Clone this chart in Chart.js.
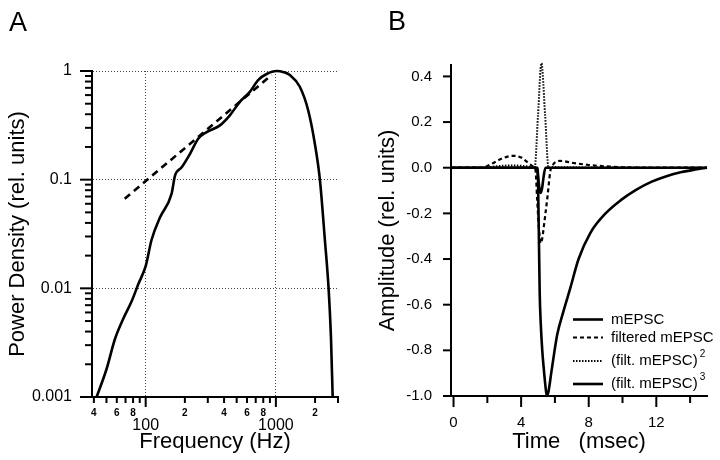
<!DOCTYPE html>
<html>
<head>
<meta charset="utf-8">
<script src="https://cdn.jsdelivr.net/npm/chart.js@4.4.1/dist/chart.umd.min.js"></script>
<style>
  body { margin: 0; background: #fff; }
  #wrap { position: relative; width: 720px; height: 460px; overflow: hidden; }
  #wrap canvas { position: absolute; top: 0; }
  .panel { position: absolute; font-family: 'Liberation Sans', Arial, sans-serif; font-size: 27px; line-height: 27px; color: #000; }
</style>
</head>
<body>
<div id="wrap">
  <canvas id="chartA" width="360" height="460" style="left:0"></canvas>
  <canvas id="chartB" width="360" height="460" style="left:360px"></canvas>
  <div class="panel" style="left:9px;top:9px">A</div>
  <div class="panel" style="left:388px;top:8px">B</div>
</div>
<script>
// Panel A - power spectrum of the mEPSC (log-log)
const FREQ_HZ = [42, 50, 58, 67, 78, 88, 100, 111, 129, 158, 168, 189, 219, 253, 294, 372, 443, 529, 631, 731, 849, 1012, 1150, 1279, 1527, 1770, 1992, 2178, 2378, 2540, 2650, 2730];
const POWER = [0.001, 0.0018, 0.0034, 0.0052, 0.0076, 0.011, 0.016, 0.028, 0.045, 0.074, 0.109, 0.13, 0.173, 0.238, 0.274, 0.316, 0.391, 0.52, 0.643, 0.826, 0.938, 1.0, 0.975, 0.918, 0.716, 0.435, 0.214, 0.1, 0.028, 0.01, 0.0035, 0.001];
// dashed power-law fit
const FIT_HZ = [69, 930];
const FIT_POWER = [0.0667, 0.92];

const X_TICKS_A = [40, 50, 60, 70, 80, 90, 100, 200, 300, 400, 500, 600, 700, 800, 900, 1000, 2000, 3000];
const X_LABELS_A = ['4', '', '6', '', '8', '', '100', '2', '', '4', '', '6', '', '8', '', '1000', '2', ''];
const Y_DECADES_A = [0.001, 0.01, 0.1, 1];
const Y_LABELS_A = ['0.001', '0.01', '0.1', '1'];

// Panel B - time course (msec)
const TIME_M = [-0.15, 4.98, 5.02, 5.06, 5.1, 5.16, 5.25, 5.34, 5.43, 5.52, 5.62, 5.8, 6.14, 6.5, 6.9, 7.4, 8.1, 9.0, 9.9, 10.8, 11.7, 12.6, 13.5, 14.3, 15];
const AMP_M = [0, 0, -0.15, -0.35, -0.55, -0.68, -0.8, -0.88, -0.95, -1.0, -0.98, -0.89, -0.73, -0.63, -0.53, -0.4, -0.285, -0.2, -0.142, -0.097, -0.062, -0.037, -0.019, -0.008, 0];

const TIME_F = [-0.15, 1.7, 2.2, 2.8, 3.5, 4.0, 4.4, 4.75, 4.85, 4.95, 5.05, 5.15, 5.25, 5.34, 5.44, 5.54, 5.74, 5.9, 6.3, 7.0, 8.0, 9.0, 10.0, 11.0, 15];
const AMP_F = [0, 0, 0.015, 0.038, 0.052, 0.045, 0.022, 0.003, -0.01, -0.14, -0.26, -0.33, -0.31, -0.26, -0.2, -0.14, -0.01, 0.015, 0.03, 0.022, 0.012, 0.006, 0.002, 0, 0];

const TIME_SQ = [-0.15, 1.8, 2.5, 3.5, 4.3, 4.8, 5.0, 5.2, 5.42, 5.62, 5.8, 6.5, 15];
const AMP_SQ = [0, 0, 0.006, 0.01, 0.006, 0, 0.23, 0.458, 0.23, 0, 0.003, 0.002, 0];

const TIME_CU = [-0.15, 4.85, 4.95, 5.02, 5.1, 5.16, 5.24, 5.33, 5.44, 15];
const AMP_CU = [0, 0, -0.01, -0.05, -0.1, -0.11, -0.09, -0.04, 0, 0];

const SERIES_NAMES = ['mEPSC', 'filtered mEPSC', '(filt. mEPSC)', '(filt. mEPSC)'];
const SERIES_POWERS = ['', '', '2', '3'];

const X_TICKS_B = [0, 2, 4, 6, 8, 10, 12, 14];
const X_LABELS_B = ['0', '', '4', '', '8', '', '12', ''];
const Y_TICKS_B = [-1, -0.8, -0.6, -0.4, -0.2, 0, 0.2, 0.4];
const Y_LABELS_B = ['-1.0', '-0.8', '-0.6', '-0.4', '-0.2', '0.0', '0.2', '0.4'];

Chart.defaults.font.family = "'Liberation Sans', Arial, sans-serif";
Chart.defaults.color = '#000';

const pts = (xs, ys) => xs.map((x, i) => ({ x: x, y: ys[i] }));

// draws the tick marks so labelled ticks can be longer than the others
const tickMarks = {
  id: 'tickMarks',
  afterDraw(chart, args, opts) {
    const ctx = chart.ctx;
    ctx.save();
    ctx.strokeStyle = '#000';
    ctx.lineWidth = 2;
    Object.values(chart.scales).forEach(scale => {
      const len = opts[scale.id];
      if (!len) return;
      scale.ticks.forEach(t => {
        const p = scale.getPixelForValue(t.value);
        const l = t.major ? len[1] : len[0];
        ctx.beginPath();
        if (scale.isHorizontal()) {
          ctx.moveTo(p, scale.top);
          ctx.lineTo(p, scale.top + l);
        } else {
          ctx.moveTo(scale.right, p);
          ctx.lineTo(scale.right - l, p);
        }
        ctx.stroke();
      });
    });
    ctx.restore();
  }
};

// legend in the lower right of panel B, with superscripts
const legendB = {
  id: 'legendB',
  afterDraw(chart) {
    const ctx = chart.ctx;
    const rows = [319.5, 337.5, 361, 384];
    ctx.save();
    chart.data.datasets.forEach((ds, i) => {
      const y = rows[i];
      ctx.strokeStyle = '#000';
      ctx.lineWidth = ds.borderWidth;
      ctx.setLineDash(ds.borderDash || []);
      ctx.beginPath();
      ctx.moveTo(213, y);
      ctx.lineTo(243, y);
      ctx.stroke();
      ctx.setLineDash([]);
      ctx.fillStyle = '#000';
      ctx.textBaseline = 'middle';
      ctx.font = "15px 'Liberation Sans', Arial, sans-serif";
      ctx.fillText(SERIES_NAMES[i], 251, y);
      if (SERIES_POWERS[i]) {
        const w = ctx.measureText(SERIES_NAMES[i]).width;
        ctx.font = "10px 'Liberation Sans', Arial, sans-serif";
        ctx.fillText(SERIES_POWERS[i], 251 + w + 2, y - 7);
      }
    });
    ctx.restore();
  }
};

const GRID = '#444';

new Chart(document.getElementById('chartA'), {
  type: 'line',
  data: {
    datasets: [
      { data: pts(FREQ_HZ, POWER), borderColor: '#000', borderWidth: 2.6, pointRadius: 0, cubicInterpolationMode: 'monotone', clip: false },
      { data: pts(FIT_HZ, FIT_POWER), borderColor: '#000', borderWidth: 2.6, borderDash: [7, 5], pointRadius: 0, clip: false }
    ]
  },
  options: {
    responsive: false,
    devicePixelRatio: 1,
    animation: false,
    events: [],
    layout: { padding: { top: 71, right: 22, left: 0, bottom: 0 } },
    plugins: {
      legend: { display: false },
      tooltip: { enabled: false },
      tickMarks: { x: [6, 10], y: [7, 12] }
    },
    scales: {
      x: {
        type: 'logarithmic',
        min: 38.7,
        max: 3000,
        afterFit: s => { s.height = 63; },
        afterBuildTicks: s => { s.ticks = X_TICKS_A.map((v, i) => ({ value: v, major: X_LABELS_A[i].length > 2 })); },
        grid: {
          color: c => (c.tick && (c.tick.value === 100 || c.tick.value === 1000) ? GRID : 'rgba(0,0,0,0)'),
          lineWidth: 1,
          drawTicks: true,
          tickLength: 6,
          tickColor: 'rgba(0,0,0,0)'
        },
        border: { color: '#000', width: 2, dash: c => (c.tick ? [1, 2] : []) },
        ticks: {
          autoSkip: false,
          maxRotation: 0,
          padding: 1,
          font: c => (c.tick && c.tick.major ? { size: 16, lineHeight: 0.917 } : { size: 10, weight: 'bold', lineHeight: 1.8 }),
          callback: v => {
            const lab = X_LABELS_A[X_TICKS_A.indexOf(v)];
            return lab.length > 2 ? ['', lab] : lab;
          }
        },
        title: { display: true, text: 'Frequency (Hz)', font: { size: 22 }, padding: { top: 0, bottom: 5 } }
      },
      y: {
        type: 'logarithmic',
        min: 0.001,
        max: 1,
        afterFit: s => { s.width = 92; },
        afterBuildTicks: s => {
          const t = [];
          Y_DECADES_A.forEach((d, i) => {
            t.push({ value: d, major: true });
            if (i < Y_DECADES_A.length - 1) {
              for (let m = 2; m <= 9; m++) t.push({ value: +(d * m).toPrecision(3), major: false });
            }
          });
          s.ticks = t;
        },
        grid: {
          color: c => (c.tick && Y_DECADES_A.includes(c.tick.value) ? GRID : 'rgba(0,0,0,0)'),
          lineWidth: 1,
          drawTicks: true,
          tickLength: 12,
          tickColor: 'rgba(0,0,0,0)'
        },
        border: { color: '#000', width: 2, dash: c => (c.tick ? [1, 2] : []) },
        ticks: {
          autoSkip: false,
          padding: 8,
          font: { size: 16 },
          callback: v => {
            const i = Y_DECADES_A.indexOf(v);
            return i >= 0 ? Y_LABELS_A[i] : '';
          }
        },
        title: { display: true, text: 'Power Density (rel. units)', font: { size: 22 }, padding: { top: 5, bottom: 0 } }
      }
    }
  },
  plugins: [tickMarks]
});

new Chart(document.getElementById('chartB'), {
  type: 'line',
  data: {
    datasets: [
      { label: SERIES_NAMES[0], data: pts(TIME_M, AMP_M), borderColor: '#000', borderWidth: 2.6, pointRadius: 0, cubicInterpolationMode: 'monotone', clip: false },
      { label: SERIES_NAMES[1], data: pts(TIME_F, AMP_F), borderColor: '#000', borderWidth: 2.2, borderDash: [4, 3], pointRadius: 0, cubicInterpolationMode: 'monotone', clip: false },
      { label: SERIES_NAMES[2], data: pts(TIME_SQ, AMP_SQ), borderColor: '#000', borderWidth: 2, borderDash: [1.5, 1.5], pointRadius: 0, cubicInterpolationMode: 'monotone', clip: false },
      { label: SERIES_NAMES[3], data: pts(TIME_CU, AMP_CU), borderColor: '#000', borderWidth: 2.6, pointRadius: 0, cubicInterpolationMode: 'monotone', clip: false }
    ]
  },
  options: {
    responsive: false,
    devicePixelRatio: 1,
    animation: false,
    events: [],
    layout: { padding: { top: 65, right: 13, left: 0, bottom: 0 } },
    plugins: {
      legend: { display: false },
      tooltip: { enabled: false },
      tickMarks: { x: [7, 11], y: [8, 8] }
    },
    scales: {
      x: {
        type: 'linear',
        min: -0.15,
        max: 15,
        afterFit: s => { s.height = 64; },
        afterBuildTicks: s => { s.ticks = X_TICKS_B.map((v, i) => ({ value: v, major: X_LABELS_B[i] !== '' })); },
        grid: { display: true, drawOnChartArea: false, drawTicks: true, tickLength: 11, tickColor: 'rgba(0,0,0,0)' },
        border: { color: '#000', width: 2 },
        ticks: {
          autoSkip: false,
          maxRotation: 0,
          padding: 7,
          font: { size: 15 },
          callback: v => X_LABELS_B[X_TICKS_B.indexOf(v)]
        },
        title: { display: true, text: 'Time   (msec)', font: { size: 22 }, padding: { top: 0, bottom: 5 } }
      },
      y: {
        type: 'linear',
        min: -1,
        max: 0.45,
        afterFit: s => { s.width = 91; },
        afterBuildTicks: s => { s.ticks = Y_TICKS_B.map(v => ({ value: v, major: true })); },
        grid: { display: true, drawOnChartArea: false, drawTicks: true, tickLength: 8, tickColor: 'rgba(0,0,0,0)' },
        border: { color: '#000', width: 2 },
        ticks: {
          autoSkip: false,
          padding: 11,
          font: { size: 15 },
          callback: v => Y_LABELS_B[Y_TICKS_B.indexOf(v)]
        },
        title: { display: true, text: 'Amplitude (rel. units)', font: { size: 22 }, padding: { top: 15, bottom: 0 } }
      }
    }
  },
  plugins: [tickMarks, legendB]
});
</script>
</body>
</html>
